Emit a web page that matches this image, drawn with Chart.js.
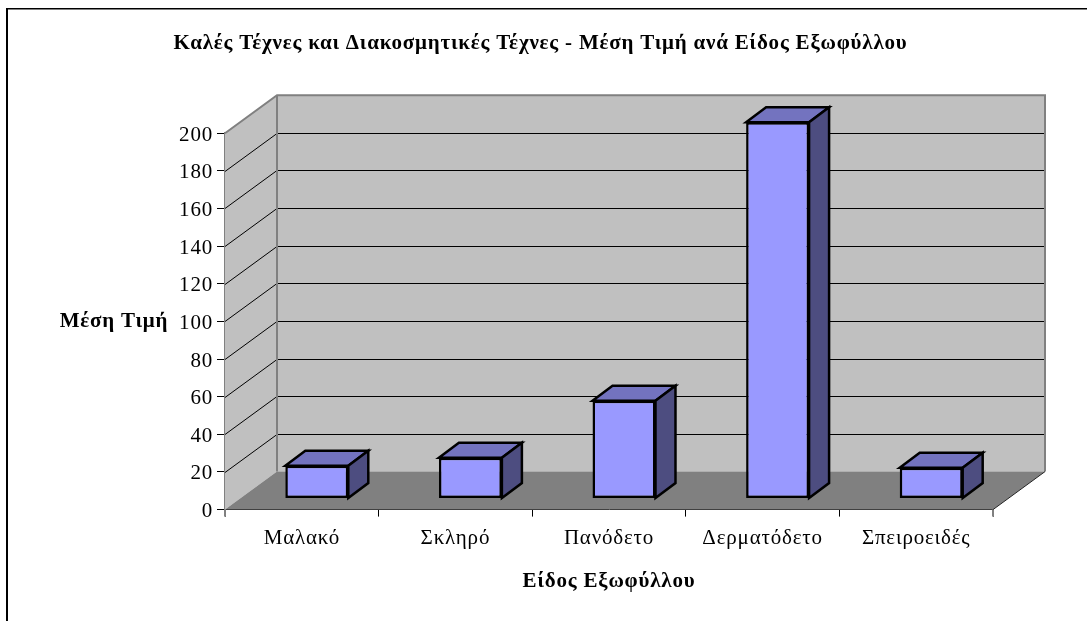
<!DOCTYPE html>
<html>
<head>
<meta charset="utf-8">
<title>Μέση Τιμή ανά Είδος Εξωφύλλου</title>
<script src="https://cdn.jsdelivr.net/npm/chart.js@4"></script>
<style>
  html, body { margin: 0; padding: 0; background: #fff; }
  #wrap { position: relative; width: 1087px; height: 621px; overflow: hidden; }
</style>
</head>
<body>
<div id="wrap"><canvas id="chart" width="1087" height="621"></canvas></div>
<script>
// --- Data ---
const categories = ['Μαλακό', 'Σκληρό', 'Πανόδετο', 'Δερματόδετο', 'Σπειροειδές'];
const meanPrice = [17.5, 21.7, 52, 200, 16.4];
const yTicks = [0, 20, 40, 60, 80, 100, 120, 140, 160, 180, 200];

const chartTitle = 'Καλές Τέχνες και Διακοσμητικές Τέχνες - Μέση Τιμή ανά Είδος Εξωφύλλου';
const xTitle = 'Είδος Εξωφύλλου';
const yTitle = 'Μέση Τιμή';

// --- 3D look ---
const FONT = "'Liberation Serif', serif";
const SPACING = '0.8px';             // reference font runs wider than Liberation Serif
const WALL_DX = 52, WALL_DY = -38;   // depth of the box
const BAR_DX = 15, BAR_DY = -11;     // bar front sits this far into the box
const DEPTH_DX = 20, DEPTH_DY = -15; // depth of a bar

function poly(ctx, pts, fill, stroke, lw) {
  ctx.beginPath();
  pts.forEach((p, i) => i ? ctx.lineTo(p[0], p[1]) : ctx.moveTo(p[0], p[1]));
  ctx.closePath();
  if (fill) { ctx.fillStyle = fill; ctx.fill(); }
  if (stroke) { ctx.strokeStyle = stroke; ctx.lineWidth = lw; ctx.lineJoin = 'miter'; ctx.stroke(); }
}

const box3d = {
  id: 'box3d',
  beforeLayout(chart) { chart.ctx.letterSpacing = SPACING; },
  beforeDraw(chart) { chart.ctx.letterSpacing = SPACING; },
  beforeDatasetsDraw(chart) {
    const { ctx, chartArea: a, scales: { y } } = chart;
    const l = a.left, r = a.right, t = a.top, b = a.bottom;
    const dx = WALL_DX, dy = WALL_DY;
    ctx.save();
    // side wall, back wall
    poly(ctx, [[l, t], [l + dx, t + dy], [l + dx, b + dy], [l, b]], '#c0c0c0');
    poly(ctx, [[l + dx, t + dy], [r + dx, t + dy], [r + dx, b + dy], [l + dx, b + dy]], '#c0c0c0');
    // floor
    poly(ctx, [[l, b], [l + dx, b + dy], [r + dx, b + dy], [r, b]], '#808080');
    // gridlines
    ctx.strokeStyle = '#000';
    ctx.lineWidth = 1;
    yTicks.forEach(v => {
      if (v === 0 || v === 200) return;
      const py = Math.round(y.getPixelForValue(v)) + 0.5;
      ctx.beginPath();
      ctx.moveTo(l, py);
      ctx.lineTo(l + dx, py + dy);
      ctx.lineTo(r + dx, py + dy);
      ctx.stroke();
    });
    // wall edges
    ctx.strokeStyle = '#808080';
    ctx.lineWidth = 2;
    ctx.beginPath();
    ctx.moveTo(l, t);
    ctx.lineTo(l + dx, t + dy);
    ctx.lineTo(r + dx, t + dy);
    ctx.lineTo(r + dx, b + dy);
    ctx.moveTo(l + dx, t + dy);
    ctx.lineTo(l + dx, b + dy);
    ctx.stroke();
    // front right edge of the floor
    ctx.strokeStyle = '#222';
    ctx.lineWidth = 1;
    ctx.beginPath();
    ctx.moveTo(r + dx, b + dy);
    ctx.lineTo(r, b);
    ctx.stroke();
    ctx.restore();
  },
  beforeDatasetDraw(chart) {
    const { ctx } = chart;
    ctx.save();
    ctx.translate(BAR_DX, BAR_DY);
    // top and side faces first, the library draws the front over them
    chart.getDatasetMeta(0).data.forEach(bar => {
      const x0 = bar.x - bar.width / 2, x1 = bar.x + bar.width / 2;
      const top = bar.y, bot = bar.base;
      const dx = DEPTH_DX, dy = DEPTH_DY;
      poly(ctx, [[x0, top], [x0 + dx, top + dy], [x1 + dx, top + dy], [x1, top]], '#7373bf', '#000', 2.5);
      poly(ctx, [[x1, top], [x1 + dx, top + dy], [x1 + dx, bot + dy], [x1, bot]], '#4d4d80', '#000', 2.5);
    });
  },
  afterDatasetDraw(chart) {
    chart.ctx.restore();
  },
  afterDraw(chart) {
    const { ctx, chartArea: a } = chart;
    ctx.save();
    // outer frame, open at right and bottom
    ctx.fillStyle = '#000';
    ctx.fillRect(6, 8, 2, 613);
    ctx.fillRect(6, 8, 1081, 1.5);
    // grey end ticks of the category axis
    ctx.fillStyle = '#808080';
    ctx.fillRect(a.left - 1, a.bottom, 2, 7);
    ctx.fillRect(a.right - 1, a.bottom, 2, 7);
    // horizontal value axis title
    ctx.font = `bold 21px ${FONT}`;
    ctx.textAlign = 'center';
    ctx.textBaseline = 'middle';
    ctx.fillStyle = '#000';
    ctx.fillText(yTitle, 114, 322);
    ctx.restore();
  },
};

new Chart(document.getElementById('chart'), {
  type: 'bar',
  data: {
    labels: categories,
    datasets: [{
      data: meanPrice,
      backgroundColor: '#9999ff',
      borderColor: '#000',
      borderWidth: 2.5,
      borderSkipped: false,
      barPercentage: 0.41,
      categoryPercentage: 1,
    }],
  },
  options: {
    responsive: false,
    animation: false,
    layout: { padding: { left: 88, right: 94, top: 0, bottom: 0 } },
    plugins: {
      legend: { display: false },
      tooltip: { enabled: false },
      title: {
        display: true,
        text: chartTitle,
        color: '#000',
        font: { family: FONT, size: 21, weight: 'bold' },
        padding: { top: 31, bottom: 77 },
      },
    },
    scales: {
      x: {
        offset: true,
        grid: { offset: true, drawOnChartArea: false, drawTicks: true, tickLength: 7, color: '#000' },
        border: { color: '#000', width: 1 },
        ticks: { color: '#000', font: { family: FONT, size: 21 }, padding: 9, maxRotation: 0 },
        title: {
          display: true,
          text: xTitle,
          color: '#000',
          font: { family: FONT, size: 21, weight: 'bold' },
          padding: { top: 9, bottom: 27 },
        },
      },
      y: {
        min: 0,
        max: 200,
        afterBuildTicks(axis) { axis.ticks = yTicks.map(v => ({ value: v })); },
        grid: { drawOnChartArea: false, drawTicks: true, tickLength: 8, color: '#000' },
        border: { color: '#808080', width: 2 },
        ticks: { color: '#000', font: { family: FONT, size: 21 }, padding: 4, labelOffset: 2 },
        afterFit(axis) { axis.width = 137; },
      },
    },
  },
  plugins: [box3d],
});
</script>
</body>
</html>
